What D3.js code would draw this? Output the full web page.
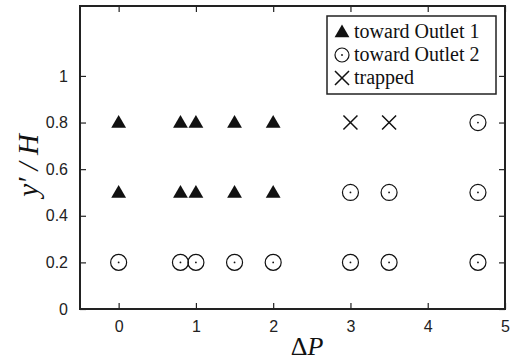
<!DOCTYPE html>
<html>
<head>
<meta charset="utf-8">
<script src="https://cdn.jsdelivr.net/npm/d3@7"></script>
<style>
  body { margin: 0; background: #fff; }
</style>
</head>
<body>
<div id="chart"></div>
<script>
// Datos
const outlet1X = [0, 0.8, 1, 1.5, 2, 0, 0.8, 1, 1.5, 2];
const outlet1Y = [0.8, 0.8, 0.8, 0.8, 0.8, 0.5, 0.5, 0.5, 0.5, 0.5];
const outlet2X = [0, 0.8, 1, 1.5, 2, 3, 3.5, 4.65, 3, 3.5, 4.65, 4.65];
const outlet2Y = [0.2, 0.2, 0.2, 0.2, 0.2, 0.2, 0.2, 0.2, 0.5, 0.5, 0.5, 0.8];
const trappedX = [3, 3.5];
const trappedY = [0.8, 0.8];
const xTicks = [0, 1, 2, 3, 4, 5];
const yTicks = [0, 0.2, 0.4, 0.6, 0.8, 1];
const legendLabels = ["toward Outlet 1", "toward Outlet 2", "trapped"];

const W = 512, H = 363;
const margin = { top: 6, right: 7, bottom: 54, left: 80 };
const width = W - margin.left - margin.right;
const height = H - margin.top - margin.bottom;

const svg = d3.select("#chart").append("svg")
    .attr("width", W).attr("height", H);
const g = svg.append("g").attr("transform", `translate(${margin.left},${margin.top})`);

const x = d3.scaleLinear().domain([-0.5, 5]).range([0, width]);
const y = d3.scaleLinear().domain([0, 1.3]).range([height, 0]);

const tickLen = 6;
const sans = "'Liberation Sans', Arial, sans-serif";
const serif = "'Liberation Serif', 'Times New Roman', serif";

// Ejes con marcas hacia dentro en los cuatro lados
function styleAxis(sel) {
    sel.select(".domain").remove();
    sel.selectAll("line").attr("stroke", "#222").attr("stroke-width", 1.2);
    sel.selectAll("text").attr("font-family", sans).attr("font-size", 16).attr("fill", "#222");
}
g.append("g").attr("transform", `translate(0,${height})`)
    .call(d3.axisBottom(x).tickValues(xTicks).tickSizeInner(-tickLen).tickPadding(12).tickFormat(d3.format("d")))
    .call(styleAxis);
g.append("g")
    .call(d3.axisTop(x).tickValues(xTicks).tickSizeInner(-tickLen).tickFormat(""))
    .call(styleAxis);
g.append("g")
    .call(d3.axisLeft(y).tickValues(yTicks).tickSizeInner(-tickLen).tickPadding(12).tickFormat(d => d === 0 || d === 1 ? d3.format("d")(d) : d3.format(".1f")(d)))
    .call(styleAxis);
g.append("g").attr("transform", `translate(${width},0)`)
    .call(d3.axisRight(y).tickValues(yTicks).tickSizeInner(-tickLen).tickFormat(""))
    .call(styleAxis);

g.append("rect")
    .attr("width", width).attr("height", height)
    .attr("fill", "none").attr("stroke", "#222").attr("stroke-width", 2);

// Marcadores
const tri = d3.symbol().type(d3.symbolTriangle).size(95);
const cross = d3.symbol().type(d3.symbolX).size(130);

g.selectAll(".o1").data(outlet1X).enter().append("path")
    .attr("class", "o1")
    .attr("transform", (d, i) => `translate(${x(d)},${y(outlet1Y[i]) + 1})`)
    .attr("d", tri).attr("fill", "#111");

const o2 = g.selectAll(".o2").data(outlet2X).enter().append("g")
    .attr("class", "o2")
    .attr("transform", (d, i) => `translate(${x(d)},${y(outlet2Y[i])})`);
o2.append("circle").attr("r", 8).attr("fill", "none").attr("stroke", "#111").attr("stroke-width", 1.2);
o2.append("circle").attr("r", 0.9).attr("fill", "#111");

g.selectAll(".tr").data(trappedX).enter().append("path")
    .attr("class", "tr")
    .attr("transform", (d, i) => `translate(${x(d)},${y(trappedY[i])})`)
    .attr("d", cross).attr("fill", "none").attr("stroke", "#111").attr("stroke-width", 1.5);

// Leyenda
const leg = svg.append("g").attr("transform", "translate(327,16)");
leg.append("rect").attr("width", 169).attr("height", 78)
    .attr("fill", "#fff").attr("stroke", "#222").attr("stroke-width", 1.5);
const rowY = [16, 39, 62];
leg.append("path").attr("transform", `translate(15,${rowY[0] + 1})`).attr("d", tri).attr("fill", "#111");
leg.append("circle").attr("cx", 15).attr("cy", rowY[1]).attr("r", 7).attr("fill", "none").attr("stroke", "#111").attr("stroke-width", 1.2);
leg.append("circle").attr("cx", 15).attr("cy", rowY[1]).attr("r", 0.9).attr("fill", "#111");
leg.append("path").attr("transform", `translate(15,${rowY[2]})`).attr("d", cross).attr("fill", "none").attr("stroke", "#111").attr("stroke-width", 1.5);
leg.selectAll(".lt").data(legendLabels).enter().append("text")
    .attr("x", 27).attr("y", (d, i) => rowY[i] + 6)
    .attr("font-family", serif).attr("font-size", 20).attr("fill", "#111")
    .text(d => d);

// Etiquetas de los ejes
svg.append("text")
    .attr("transform", `translate(38,${margin.top + height / 2 + 8}) rotate(-90)`)
    .attr("text-anchor", "middle")
    .attr("font-family", serif).attr("font-size", 29).attr("font-style", "italic").attr("fill", "#111")
    .text("y′ / H");
svg.append("text")
    .attr("x", 307).attr("y", 355)
    .attr("text-anchor", "middle")
    .attr("font-family", serif).attr("font-size", 26).attr("fill", "#111")
    .html("Δ<tspan font-style='italic'>P</tspan>");
</script>
</body>
</html>
